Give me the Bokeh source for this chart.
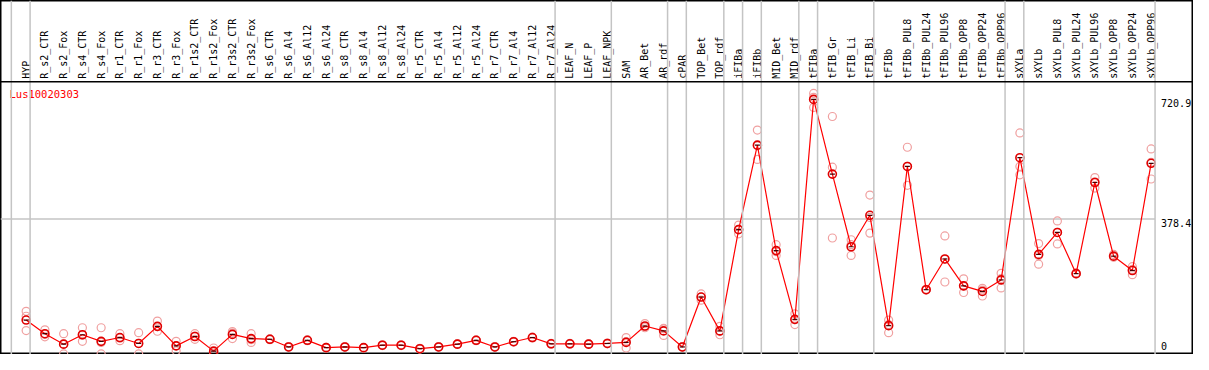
import numpy as np
from bokeh.plotting import figure
from bokeh.models import Span, Range1d
from bokeh.core.properties import value
from bokeh.embed import file_html
from bokeh.resources import INLINE

gene = "Lus10020303"

categories = [
    "HYP", "R_s2_CTR", "R_s2_Fox", "R_s4_CTR", "R_s4_Fox", "R_r1_CTR", "R_r1_Fox",
    "R_r3_CTR", "R_r3_Fox", "R_r1s2_CTR", "R_r1s2_Fox", "R_r3s2_CTR", "R_r3s2_Fox",
    "R_s6_CTR", "R_s6_Al4", "R_s6_Al12", "R_s6_Al24", "R_s8_CTR", "R_s8_Al4",
    "R_s8_Al12", "R_s8_Al24", "R_r5_CTR", "R_r5_Al4", "R_r5_Al12", "R_r5_Al24",
    "R_r7_CTR", "R_r7_Al4", "R_r7_Al12", "R_r7_Al24", "LEAF_N", "LEAF_P", "LEAF_NPK",
    "SAM", "AR_Bet", "AR_rdf", "cPAR", "TOP_Bet", "TOP_rdf", "iFIBa", "iFIBb",
    "MID_Bet", "MID_rdf", "tFIBa", "tFIB_Gr", "tFIB_Li", "tFIB_Bi", "tFIBb",
    "tFIBb_PUL8", "tFIBb_PUL24", "tFIBb_PUL96", "tFIBb_OPP8", "tFIBb_OPP24", "tFIBb_OPP96",
    "sXYLa", "sXYLb", "sXYLb_PUL8", "sXYLb_PUL24", "sXYLb_PUL96", "sXYLb_OPP8",
    "sXYLb_OPP24", "sXYLb_OPP96",
]

# number of consecutive categories in each separated group
group_sizes = [1, 28, 3, 3, 1, 2, 1, 1, 2, 1, 3, 7, 1, 7]

means = [
    89, 50, 20, 47, 28, 39, 22, 71, 15, 42, 0, 48, 36,
    34, 12, 31, 10, 12, 10, 17, 17, 7, 12, 20, 31, 12, 27, 39, 21,
    21, 20, 22,
    25, 72, 58, 12, 155, 58, 348, 590, 288, 91,
    720.9, 507, 299, 389, 73,
    529, 176, 264, 187, 171, 204,
    554, 277, 340, 222, 483, 272, 231, 538,
]

rep1 = [
    114, 61, 50, 67, 67, 50, 53, 86, 28, 50, 9, 56, 50,
    35, 13, 32, 11, 13, 10, 18, 18, 8, 13, 21, 32, 13, 28, 40, 22,
    22, 21, 23,
    39, 79, 65, 13, 164, 71, 361, 633, 305, 107,
    738, 672, 319, 447, 89,
    584, 177, 330, 207, 180, 223,
    625, 308, 373, 224, 497, 277, 242, 579,
]

rep2 = [
    100, 41, -8, 28, -8, 30, -8, 57, 1, 34, -7, 36, 25,
    33, 11, 30, 9, 11, 9, 16, 16, 6, 11, 19, 30, 11, 26, 38, 20,
    20, 19, 21,
    9, 70, 45, 11, 146, 47, 336, 549, 274, 76,
    698, 527, 274, 338, 53,
    475, 175, 198, 168, 158, 181,
    529, 249, 307, 221, 467, 270, 219, 493,
]

rep3 = [
    59, 48, 20, 46, 25, 37, 22, 70, 16, 43, -2, 52, 33,
    35, 12, 31, 10, 12, 10, 17, 17, 7, 12, 20, 31, 12, 27, 39, 21,
    21, 20, 22,
    27, 67, 64, 12, 155, 56, 349, 588, 285, 90,
    727, 324, 305, 383, 76,
    529, 176, 263, 186, 175, 208,
    505, 274, 340, 222, 485, 269, 234, 541,
]

scale_labels = ["720.9", "378.4", "0"]
scale_values = [720.9, 378.4, 0.0]
guide_value = 378.4

idx = np.arange(len(categories))

W, H = 1193, 354
x0, x1 = -1.368, 62.26
y0, y1 = -9.6, 1004.2
header_v = 771.3

p = figure(width=W, height=H, output_backend="svg", toolbar_location=None,
           x_range=Range1d(x0, x1), y_range=Range1d(y0, y1),
           x_axis_type=None, y_axis_type=None, min_border=0)
p.grid.visible = False
p.outline_line_color = "black"
p.outline_line_width = 2
p.background_fill_color = "white"
p.border_fill_color = "white"

# group separators
ends = np.concatenate([[-1], np.cumsum(group_sizes) - 1]) + 0.21
for e in ends:
    p.add_layout(Span(location=float(e), dimension="height",
                      line_color="#c4c4c4", line_width=1.5))

# header bottom line
p.add_layout(Span(location=header_v, dimension="width",
                  line_color="black", line_width=1.5))

# guide line
p.segment(x0=[x0], y0=[guide_value], x1=[float(ends[-1])], y1=[guide_value],
          line_color="#c4c4c4", line_width=1.5)

# category labels
p.text(x=idx, y=[header_v] * len(idx), text=categories, angle=np.pi / 2,
       text_align="left", text_baseline="middle", y_offset=-3,
       text_font=value("DejaVu Sans Mono"), text_font_size="10px",
       text_color="black")

# gene name
p.text(x=[x0], y=[header_v], text=[gene], x_offset=9, y_offset=6,
       text_align="left", text_baseline="top",
       text_font=value("DejaVu Sans Mono"), text_font_size="10.5px",
       text_color="red")

# scale labels
p.text(x=[float(ends[-1])] * 2, y=scale_values[:2], text=scale_labels[:2],
       x_offset=6, y_offset=0, text_align="left", text_baseline="top",
       text_font=value("DejaVu Sans Mono"), text_font_size="10px",
       text_color="black")
p.text(x=[float(ends[-1])], y=[scale_values[2]], text=[scale_labels[2]],
       x_offset=6, y_offset=-1, text_align="left", text_baseline="bottom",
       text_font=value("DejaVu Sans Mono"), text_font_size="10px",
       text_color="black")

# replicates
rx = np.concatenate([idx, idx, idx])
ry = np.concatenate([rep1, rep2, rep3])
p.scatter(rx, ry, marker="circle", size=8, fill_color=None,
          line_color="#f0a0a0", line_width=1.2)

# mean line and markers
p.line(idx, means, line_color="red", line_width=1.2)
p.scatter(idx, means, marker="circle", size=8, fill_color=None,
          line_color="#e00000", line_width=1.6)
p.scatter(idx, means, marker="dash", size=5, line_color="#400000", line_width=1.2)

open("out.html", "w").write(file_html(p, INLINE))
